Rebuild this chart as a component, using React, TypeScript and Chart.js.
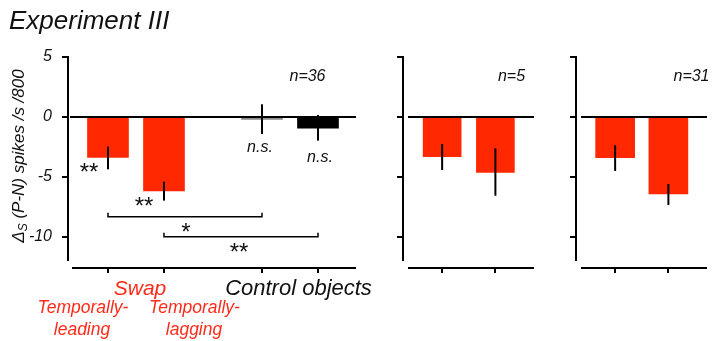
import React, { useEffect, useRef } from "react";
import { Chart, registerables } from "chart.js";

Chart.register(...registerables);

// ---------- data ----------
const TITLE = "Experiment III";
const Y_TICKS = [5, 0, -5, -10];
const Y_AXIS_TOP = 5;
const Y_AXIS_BOTTOM = -12;

const P1_CATEGORIES = ["Temporally-leading", "Temporally-lagging", "Control 1", "Control 2"];
const P1_VALUES = [-3.36, -6.17, -0.2, -0.94];
const P1_ERR_HIGH = [-2.47, -5.39, 1.06, 0.17];
const P1_ERR_LOW = [-4.36, -6.97, -1.42, -1.97];
const P1_SIG = ["**", "**", "n.s.", "n.s."];
const P1_N = "n=36";

const P2_CATEGORIES = ["Temporally-leading", "Temporally-lagging"];
const P2_VALUES = [-3.31, -4.61];
const P2_ERR_HIGH = [-2.25, -2.61];
const P2_ERR_LOW = [-4.42, -6.56];
const P2_N = "n=5";

const P3_CATEGORIES = ["Temporally-leading", "Temporally-lagging"];
const P3_VALUES = [-3.39, -6.42];
const P3_ERR_HIGH = [-2.36, -5.58];
const P3_ERR_LOW = [-4.5, -7.33];
const P3_N = "n=31";

const BRACKETS = [
  { from: 0, to: 2, label: "*" },
  { from: 1, to: 3, label: "**" },
];

const GROUP_SWAP = "Swap";
const GROUP_CONTROL = "Control objects";
const SUB_LEADING = ["Temporally-", "leading"];
const SUB_LAGGING = ["Temporally-", "lagging"];
const Y_LABEL_PARTS = ["\u0394", "S", " (P-N) spikes /s /800"];

// ---------- layout / style ----------
const FONT = '"Liberation Sans", Arial, Helvetica, sans-serif';
const RED = "#ff2800";
const RED_TEXT = "#ff2a1a";
const INK = "#111";
const H = 341;
const BRACKET_LEVELS = [-8.31, -9.98];

type Spec = {
  left: number;
  width: number;
  axisWidth: number;
  padRight: number;
  xMin: number;
  xMax: number;
  positions: number[];
  barThickness: number;
  values: number[];
  errHigh: number[];
  errLow: number[];
  colors: string[];
  zeroInset: number;
  axisInset: number;
  nLabel: string;
  nX: number;
  showLabels: boolean;
  extra?: (chart: any) => void;
};

function font(size: number) {
  return `italic ${size}px ${FONT}`;
}

function drawText(ctx: CanvasRenderingContext2D, t: string, x: number, y: number, size: number, color: string, align: CanvasTextAlign = "center") {
  ctx.font = font(size);
  ctx.fillStyle = color;
  ctx.textAlign = align;
  ctx.textBaseline = "alphabetic";
  ctx.fillText(t, x, y);
}

function panel1Extra(chart: any) {
  const { ctx, scales } = chart;
  const x = scales.x;
  const y = scales.y;
  // title
  drawText(ctx, TITLE, 9, 29, 26, INK, "left");
  // y label (rotated)
  ctx.save();
  ctx.translate(23.5, 156);
  ctx.rotate(-Math.PI / 2);
  const mainF = font(17);
  const subF = font(12);
  ctx.font = mainF;
  const w0 = ctx.measureText(Y_LABEL_PARTS[0]).width;
  const w2 = ctx.measureText(Y_LABEL_PARTS[2]).width;
  ctx.font = subF;
  const w1 = ctx.measureText(Y_LABEL_PARTS[1]).width;
  let sx = -(w0 + w1 + w2) / 2;
  ctx.fillStyle = INK;
  ctx.textAlign = "left";
  ctx.textBaseline = "alphabetic";
  ctx.font = mainF;
  ctx.fillText(Y_LABEL_PARTS[0], sx, 0);
  sx += w0;
  ctx.font = subF;
  ctx.fillText(Y_LABEL_PARTS[1], sx, 3);
  sx += w1;
  ctx.font = mainF;
  ctx.fillText(Y_LABEL_PARTS[2], sx, 0);
  ctx.restore();

  // significance markers
  const sigPos = [
    { dx: -20, y: 179.7, size: 24 },
    { dx: -21, y: 213.7, size: 24 },
    { dx: -2, y: 151.5, size: 16 },
    { dx: 2, y: 161.5, size: 16 },
  ];
  P1_SIG.forEach((s, i) => {
    const px = x.getPixelForValue(chart.$spec.positions[i]) + sigPos[i].dx;
    drawText(ctx, s, px, sigPos[i].y, sigPos[i].size, INK);
  });

  // brackets
  ctx.save();
  ctx.strokeStyle = "#000";
  ctx.lineWidth = 1.5;
  const labelOff = [{ dx: 0, dy: 23.7 }, { dx: -3, dy: 23.7 }];
  BRACKETS.forEach((b, k) => {
    const x1 = x.getPixelForValue(chart.$spec.positions[b.from]);
    const x2 = x.getPixelForValue(chart.$spec.positions[b.to]);
    const yb = y.getPixelForValue(BRACKET_LEVELS[k]);
    ctx.beginPath();
    ctx.moveTo(x1, yb - 4);
    ctx.lineTo(x1, yb);
    ctx.lineTo(x2, yb);
    ctx.lineTo(x2, yb - 4);
    ctx.stroke();
    drawText(ctx, b.label, (x1 + x2) / 2 + labelOff[k].dx, yb + labelOff[k].dy, 24, INK);
  });
  ctx.restore();

  // group labels
  drawText(ctx, GROUP_SWAP, 140, 295, 21, RED_TEXT);
  drawText(ctx, GROUP_CONTROL, 298.5, 295, 22, INK);
  drawText(ctx, SUB_LEADING[0], 83, 312.7, 17.5, RED_TEXT);
  drawText(ctx, SUB_LEADING[1], 82, 335, 17.5, RED_TEXT);
  drawText(ctx, SUB_LAGGING[0], 194.5, 312.7, 17.5, RED_TEXT);
  drawText(ctx, SUB_LAGGING[1], 194, 335, 17.5, RED_TEXT);
}

function makeDecor(spec: Spec) {
  return {
    id: "decor",
    afterDatasetsDraw(chart: any) {
      chart.$spec = spec;
      const { ctx, chartArea, scales } = chart;
      const x = scales.x;
      const y = scales.y;
      ctx.save();
      ctx.strokeStyle = "#000";
      ctx.lineWidth = 2;
      // y axis line
      ctx.beginPath();
      ctx.moveTo(chartArea.left, y.getPixelForValue(Y_AXIS_TOP) - 1);
      ctx.lineTo(chartArea.left, y.getPixelForValue(Y_AXIS_BOTTOM));
      ctx.stroke();
      // zero line
      const y0 = y.getPixelForValue(0);
      ctx.beginPath();
      ctx.moveTo(chartArea.left + spec.zeroInset, y0);
      ctx.lineTo(chartArea.right, y0);
      ctx.stroke();
      // x axis line
      ctx.beginPath();
      ctx.moveTo(chartArea.left + spec.axisInset, chartArea.bottom + 1);
      ctx.lineTo(chartArea.right, chartArea.bottom + 1);
      ctx.stroke();
      // error bars
      spec.values.forEach((_, i) => {
        const px = x.getPixelForValue(spec.positions[i]);
        ctx.beginPath();
        ctx.moveTo(px, y.getPixelForValue(spec.errHigh[i]));
        ctx.lineTo(px, y.getPixelForValue(spec.errLow[i]));
        ctx.stroke();
      });
      ctx.restore();
      // n label
      drawText(ctx, spec.nLabel, spec.nX, 80.5, 16, INK);
      if (spec.extra) spec.extra(chart);
    },
  };
}

function makeConfig(spec: Spec, labels: string[]): any {
  const gridOpts = {
    offset: false,
    drawOnChartArea: false,
    drawTicks: true,
    tickLength: 6,
    lineWidth: 2,
    color: "#000",
  };
  return {
    type: "bar",
    data: {
      labels,
      datasets: [
        {
          data: spec.values.map((v, i) => ({ x: spec.positions[i], y: v })),
          backgroundColor: spec.colors,
          barThickness: spec.barThickness,
          borderWidth: 0,
        },
      ],
    },
    options: {
      animation: false,
      responsive: false,
      events: [],
      layout: { padding: { left: 0, top: 57, right: spec.padRight, bottom: 0 } },
      plugins: {
        legend: { display: false },
        tooltip: { enabled: false },
        title: { display: false },
      },
      scales: {
        x: {
          type: "linear",
          min: spec.xMin,
          max: spec.xMax,
          offset: false,
          position: "bottom",
          afterBuildTicks: (a: any) => {
            a.ticks = spec.positions.map((v) => ({ value: v }));
          },
          afterFit: (a: any) => {
            a.height = H - 267;
          },
          ticks: { callback: () => "", autoSkip: false, padding: 0 },
          grid: gridOpts,
          border: { display: false },
        },
        y: {
          type: "linear",
          min: -12.5,
          max: 5,
          position: "left",
          afterBuildTicks: (a: any) => {
            a.ticks = Y_TICKS.map((v) => ({ value: v }));
          },
          afterFit: (a: any) => {
            a.width = spec.axisWidth;
          },
          ticks: {
            display: spec.showLabels,
            padding: 10,
            color: INK,
            font: { family: FONT, size: 16, style: "italic" },
            callback: (v: any) => String(v),
          },
          grid: gridOpts,
          border: { display: false },
        },
      },
    },
    plugins: [makeDecor(spec)],
  };
}

const SPEC1: Spec = {
  left: 0,
  width: 385,
  axisWidth: 68,
  padRight: 29,
  xMin: 0.286,
  xMax: 5.429,
  positions: [1, 2, 3.75, 4.75],
  barThickness: 41,
  values: P1_VALUES,
  errHigh: P1_ERR_HIGH,
  errLow: P1_ERR_LOW,
  colors: [RED, RED, "#8a8a8a", "#000"],
  zeroInset: 2,
  axisInset: 4,
  nLabel: P1_N,
  nX: 307.5,
  showLabels: true,
  extra: panel1Extra,
};

const SPEC2: Spec = {
  left: 380,
  width: 160,
  axisWidth: 23,
  padRight: 6,
  xMin: 0.265,
  xMax: 2.725,
  positions: [1, 2],
  barThickness: 38,
  values: P2_VALUES,
  errHigh: P2_ERR_HIGH,
  errLow: P2_ERR_LOW,
  colors: [RED, RED],
  zeroInset: 5,
  axisInset: 5,
  nLabel: P2_N,
  nX: 131.5,
  showLabels: false,
};

const SPEC3: Spec = {
  left: 545,
  width: 168,
  axisWidth: 31,
  padRight: 6,
  xMin: 0.265,
  xMax: 2.725,
  positions: [1, 2],
  barThickness: 39,
  values: P3_VALUES,
  errHigh: P3_ERR_HIGH,
  errLow: P3_ERR_LOW,
  colors: [RED, RED],
  zeroInset: 5,
  axisInset: 5,
  nLabel: P3_N,
  nX: 146.5,
  showLabels: false,
};

function Panel({ spec, labels }: { spec: Spec; labels: string[] }) {
  const ref = useRef<HTMLCanvasElement>(null);
  useEffect(() => {
    const chart = new Chart(ref.current as HTMLCanvasElement, makeConfig(spec, labels));
    return () => chart.destroy();
  }, []);
  return (
    <canvas
      ref={ref}
      width={spec.width}
      height={H}
      style={{ position: "absolute", left: spec.left, top: 0, width: spec.width, height: H }}
    />
  );
}

export default function App() {
  return (
    <div style={{ position: "absolute", left: 0, top: 0, width: 713, height: H, background: "#fff", overflow: "hidden" }}>
      <Panel spec={SPEC1} labels={P1_CATEGORIES} />
      <Panel spec={SPEC2} labels={P2_CATEGORIES} />
      <Panel spec={SPEC3} labels={P3_CATEGORIES} />
    </div>
  );
}
